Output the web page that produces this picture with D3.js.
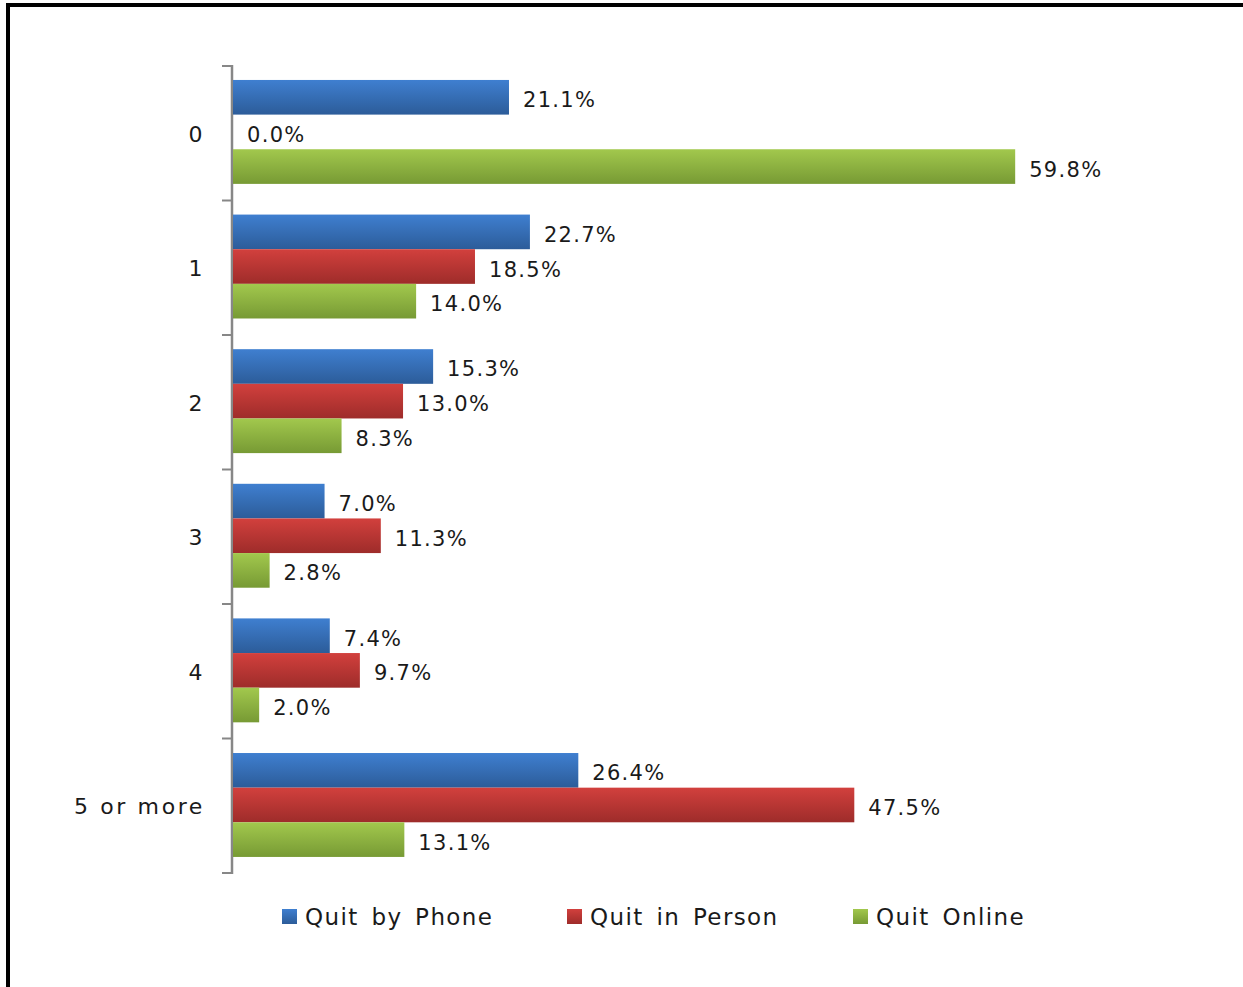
<!DOCTYPE html>
<html>
<head>
<meta charset="utf-8">
<script src="https://cdn.jsdelivr.net/npm/d3@7"></script>
<style>
  html, body { margin: 0; padding: 0; background: #fff; }
  svg { display: block; }
  text { font-family: "DejaVu Sans", Verdana, sans-serif; fill: #1a1a1a; }
</style>
</head>
<body>
<svg id="chart" width="1243" height="987"></svg>
<script>
// Number of quit attempts, by quit method (percent of each group)
const categories = ["0", "1", "2", "3", "4", "5 or more"];
const seriesNames = ["Quit by Phone", "Quit in Person", "Quit Online"];
const quitByPhone  = [21.1, 22.7, 15.3, 7.0, 7.4, 26.4];
const quitInPerson = [0.0, 18.5, 13.0, 11.3, 9.7, 47.5];
const quitOnline   = [59.8, 14.0, 8.3, 2.8, 2.0, 13.1];
const seriesValues = [quitByPhone, quitInPerson, quitOnline];

const gradients = [
  ["#3f7fd0", "#2c5c99"],
  ["#d2403d", "#9e2c2a"],
  ["#a2c84d", "#779a34"]
];

const svg = d3.select("#chart");

// frame lines (top and left)
svg.append("rect").attr("x", 6).attr("y", 3).attr("width", 1237).attr("height", 4).attr("fill", "#000");
svg.append("rect").attr("x", 6).attr("y", 3).attr("width", 4).attr("height", 984).attr("fill", "#000");

const defs = svg.append("defs");
gradients.forEach((g, i) => {
  const lg = defs.append("linearGradient").attr("id", "grad" + i)
    .attr("x1", 0).attr("y1", 0).attr("x2", 0).attr("y2", 1);
  lg.append("stop").attr("offset", "0%").attr("stop-color", g[0]);
  lg.append("stop").attr("offset", "100%").attr("stop-color", g[1]);
});

const x = d3.scaleLinear().domain([0, 70]).range([233, 233 + 70 * 13.08]);
const y = d3.scaleBand().domain(categories).range([66.5, 870.4]).paddingInner(0.228).paddingOuter(0.1);
const ySub = d3.scaleBand().domain(d3.range(seriesNames.length)).range([0, y.bandwidth()]);

// category axis
const yAxis = d3.scaleBand().domain(categories).range([66, 873]);
const axisG = svg.append("g");
axisG.append("line").attr("x1", 232).attr("x2", 232).attr("y1", 65).attr("y2", 874)
  .attr("stroke", "#878787").attr("stroke-width", 2.5);
const tickPos = categories.map(c => yAxis(c)).concat([873]);
axisG.selectAll("line.tick").data(tickPos).join("line").attr("class", "tick")
  .attr("x1", 222).attr("x2", 233).attr("y1", d => d).attr("y2", d => d)
  .attr("stroke", "#878787").attr("stroke-width", 2);
axisG.selectAll("text.cat").data(categories).join("text").attr("class", "cat")
  .attr("x", 205).attr("y", d => yAxis(d) + yAxis.bandwidth() / 2 + 8.5)
  .attr("text-anchor", "end")
  .style("font-size", "22px").style("letter-spacing", "2.6px")
  .text(d => d);

// bars
const groups = svg.append("g").selectAll("g").data(categories).join("g")
  .attr("transform", d => `translate(0,${y(d)})`);

seriesValues.forEach((vals, si) => {
  groups.append("rect")
    .attr("x", x(0))
    .attr("y", ySub(si))
    .attr("width", (d, ci) => x(vals[ci]) - x(0))
    .attr("height", ySub.bandwidth())
    .attr("fill", `url(#grad${si})`);
  groups.append("text")
    .attr("x", (d, ci) => x(vals[ci]) + 14)
    .attr("y", ySub(si) + ySub.bandwidth() / 2 + 10)
    .style("font-size", "21px").style("letter-spacing", "1.3px")
    .text((d, ci) => vals[ci].toFixed(1) + "%");
});

// legend
const legendX = [282, 567, 853];
const legend = svg.append("g").selectAll("g").data(seriesNames).join("g")
  .attr("transform", (d, i) => `translate(${legendX[i]},909)`);
legend.append("rect").attr("width", 15).attr("height", 15)
  .attr("fill", (d, i) => `url(#grad${i})`);
legend.append("text").attr("x", 23).attr("y", 16)
  .style("font-size", "23px").style("letter-spacing", "1.4px").style("word-spacing", "4px")
  .text(d => d);
</script>
</body>
</html>
